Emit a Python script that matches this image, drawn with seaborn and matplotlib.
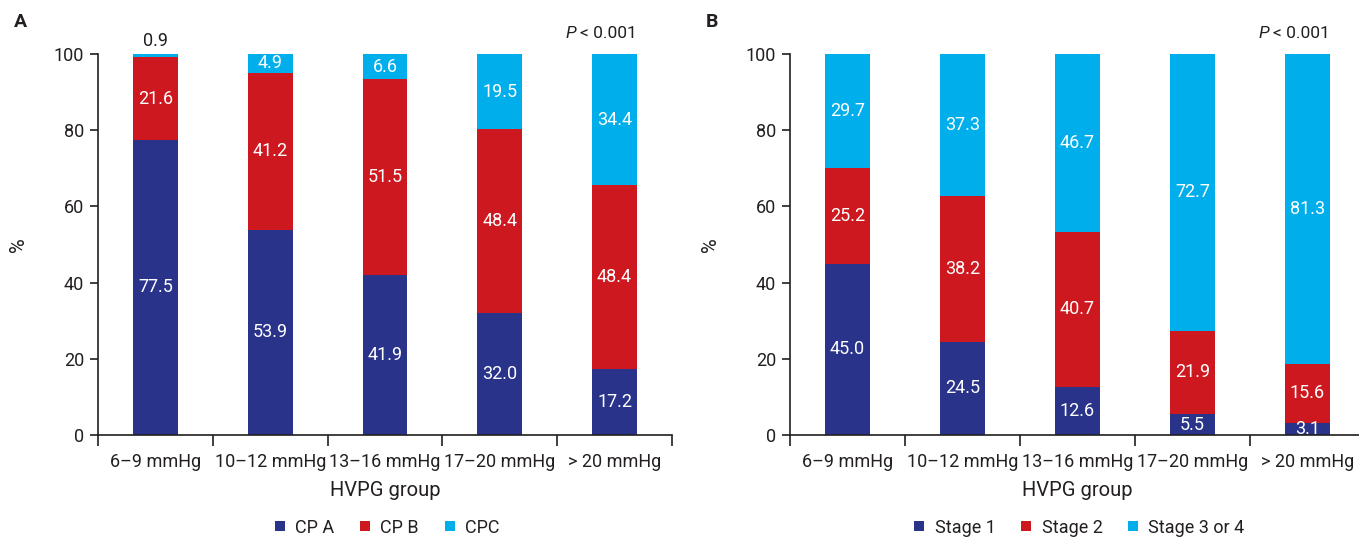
import numpy as np
import pandas as pd
import seaborn as sns
import matplotlib.pyplot as plt
from matplotlib.lines import Line2D

# HVPG groups shared by both panels
groups = ["6\u20139 mmHg", "10\u201312 mmHg", "13\u201316 mmHg", "17\u201320 mmHg", "> 20 mmHg"]

# Panel A: Child-Pugh class distribution (%)
cp_a = [77.5, 53.9, 41.9, 32.0, 17.2]
cp_b = [21.6, 41.2, 51.5, 48.4, 48.4]
cp_c = [0.9, 4.9, 6.6, 19.5, 34.4]
names_a = ["CP A", "CP B", "CPC"]

# Panel B: clinical stage distribution (%)
stage1 = [45.0, 24.5, 12.6, 5.5, 3.1]
stage2 = [25.2, 38.2, 40.7, 21.9, 15.6]
stage34 = [29.7, 37.3, 46.7, 72.7, 81.3]
names_b = ["Stage 1", "Stage 2", "Stage 3 or 4"]

p_text = "< 0.001"

sns.set_style("ticks")
plt.rcParams["font.family"] = ["Roboto", "DejaVu Sans"]

colors = ["#283389", "#CD181F", "#00AEEB"]
ink = "#231F20"
bar_w = 0.39

fig = plt.figure(figsize=(13.59, 5.39), dpi=100)
ax_a = fig.add_axes([98 / 1359, 104 / 539, 574 / 1359, 381 / 539])
ax_b = fig.add_axes([790 / 1359, 104 / 539, 575 / 1359, 381 / 539])


def stacked(ax, layers, names):
    layers = [np.asarray(l, dtype=float) for l in layers]
    cum = np.cumsum(layers, axis=0)
    # draw cumulative totals from the top layer down so each layer sits on the previous
    for i in range(len(layers) - 1, -1, -1):
        df = pd.DataFrame({"group": groups, "value": cum[i]})
        sns.barplot(data=df, x="group", y="value", color=colors[i], width=bar_w,
                    saturation=1, ax=ax, order=groups, linewidth=0, zorder=2 + (len(layers) - i))
    # value labels, centred in each segment; tiny segments get the label on top
    for i, layer in enumerate(layers):
        base = cum[i] - layer
        for j, v in enumerate(layer):
            if v < 2:
                ax.text(j, cum[i][j] + 1.0, f"{v:.1f}", ha="center", va="bottom",
                        color=ink, fontsize=13, zorder=10, clip_on=False)
            else:
                ax.text(j, base[j] + v / 2, f"{v:.1f}", ha="center", va="center",
                        color="white", fontsize=13, zorder=10, clip_on=True)

    ax.set_xlim(-0.5, 4.5)
    ax.set_ylim(0, 100)
    ax.set_yticks(np.arange(0, 101, 20))
    ax.set_xticks(range(len(groups)))
    ax.set_xticklabels(groups)
    ax.set_xticks(np.arange(-0.5, 4.6, 1.0), minor=True)
    ax.tick_params(axis="x", which="major", length=0, pad=13, labelsize=13, labelcolor=ink)
    ax.tick_params(axis="x", which="minor", length=8, width=1.2, color=ink)
    ax.tick_params(axis="y", length=6, width=1.2, color=ink, pad=4, labelsize=13, labelcolor=ink)
    for s in ["top", "right"]:
        ax.spines[s].set_visible(False)
    for s in ["left", "bottom"]:
        ax.spines[s].set_color(ink)
        ax.spines[s].set_linewidth(1.2)
        ax.spines[s].set_zorder(20)

    ax.set_xlabel("HVPG group", fontsize=14.5, color=ink)
    ax.xaxis.set_label_coords(0.5, -0.12)
    ax.set_ylabel("%", fontsize=14.5, color=ink)
    ax.yaxis.set_label_coords(-0.122, 0.5)

    # P value in the top right corner
    t = ax.text(4 + bar_w / 2, 105.5, p_text, ha="right", va="center", fontsize=12.5,
                color=ink, clip_on=False)
    ax.annotate("P", xy=(0, 0.5), xycoords=t, xytext=(-3, 0), textcoords="offset points",
                ha="right", va="center", fontsize=12.5, fontstyle="italic", color=ink)

    handles = [Line2D([], [], marker="s", linestyle="", markersize=7.5,
                      markerfacecolor=c, markeredgewidth=0) for c in colors]
    ax.legend(handles, names, loc="center", bbox_to_anchor=(0.5, -0.243), ncol=3,
              frameon=False, fontsize=13, handletextpad=0.35, columnspacing=1.2,
              labelcolor=ink, handlelength=1.0, borderpad=0.1)


stacked(ax_a, [cp_a, cp_b, cp_c], names_a)
stacked(ax_b, [stage1, stage2, stage34], names_b)

fig.text(14 / 1359, 1 - 22 / 539, "A", fontsize=14, fontweight="bold", va="center", color=ink)
fig.text(706 / 1359, 1 - 22 / 539, "B", fontsize=14, fontweight="bold", va="center", color=ink)

fig.savefig("out.png", dpi=100)
